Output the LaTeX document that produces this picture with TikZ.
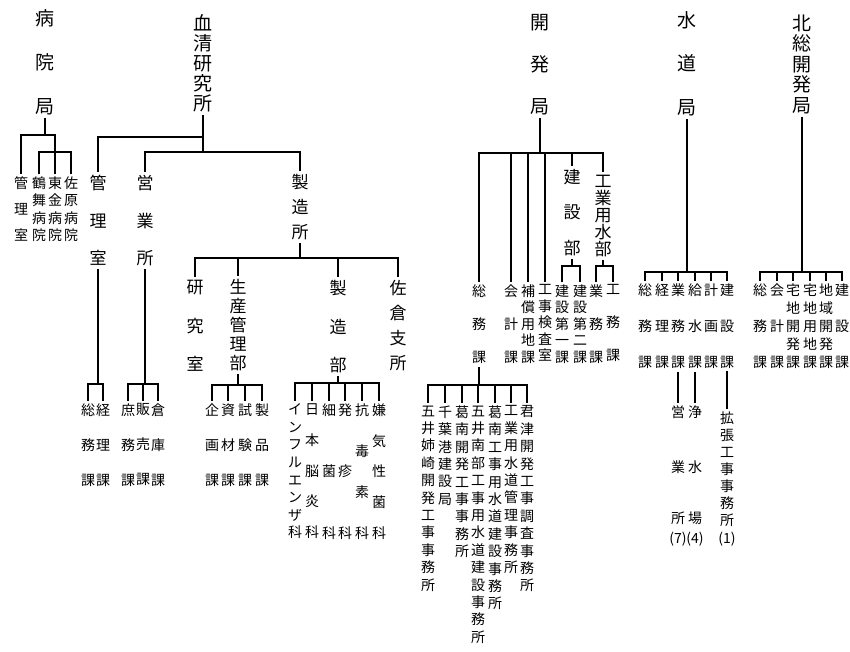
\documentclass[tikz,border=0pt]{standalone}
\usepackage{fontspec}
\newfontfamily\jp{Noto Sans CJK JP}
\usetikzlibrary{positioning}

\begin{document}
\begin{tikzpicture}[x=1pt, y=-1pt,
    vt/.style 2 args={align=center, anchor=north, inner sep=0pt, outer sep=3pt, font=\jp\fontsize{#1}{#2}\selectfont},
    ln/.style={line width=2.3pt},
  ]
  \useasboundingbox (0,0) rectangle (850,651);

  % top offices
  \node[vt={19}{44}] (byoin) at (45,6.5) {病\\院\\局};
  \node[vt={19}{20}] (kessei) at (203,11.5) {血\\清\\研\\究\\所};
  \node[vt={19}{42}] (kaihatsu) at (540,11.5) {開\\発\\局};
  \node[vt={19}{43.5}] (suido) at (687,8.5) {水\\道\\局};
  \node[vt={19}{20.5}] (hokuso) at (802,11.5) {北\\総\\開\\発\\局};

  % 病院局
  \node[vt={14}{26}] (b-kanri) at (21,173.7) {管\\理\\室};
  \node[vt={14}{17.3}] (tsurumai) at (39,173.7) {鶴\\舞\\病\\院};
  \node[vt={14}{17.3}] (togane) at (55,173.7) {東\\金\\病\\院};
  \node[vt={14}{17.3}] (sawara) at (71,173.7) {佐\\原\\病\\院};

  % 血清研究所
  \node[vt={17}{37.5}] (k-kanri) at (98,172.3) {管\\理\\室};
  \node[vt={17}{37.5}] (k-eigyo) at (145,172.3) {営\\業\\所};
  \node[vt={17}{25}] (k-seizo) at (300,171.3) {製\\造\\所};
  \node[vt={14}{35}] (k-somu) at (88,400.7) {総\\務\\課};
  \node[vt={14}{35}] (k-keiri) at (103,400.7) {経\\理\\課};
  \node[vt={14}{35}] (shomu) at (128,400.7) {庶\\務\\課};
  \node[vt={14}{35}] (hanbai) at (143,400.7) {販\\売\\課};
  \node[vt={14}{35}] (soko) at (158,400.7) {倉\\庫\\課};

  % 製造所
  \node[vt={17}{38.5}] (kenkyu) at (195,277.3) {研\\究\\室};
  \node[vt={17}{19}] (seisan) at (238,276.3) {生\\産\\管\\理\\部};
  \node[vt={17}{38.5}] (seizobu) at (338,277.3) {製\\造\\部};
  \node[vt={17}{25}] (sakura) at (398,277.3) {佐\\倉\\支\\所};
  \node[vt={14}{35}] (kikaku) at (212,400.7) {企\\画\\課};
  \node[vt={14}{35}] (shizai) at (228,400.7) {資\\材\\課};
  \node[vt={14}{35}] (shiken) at (245,400.7) {試\\験\\課};
  \node[vt={14}{35}] (seihin) at (262,400.7) {製\\品\\課};
  \node[vt={14}{17.6}] (influ) at (295,400.7) {イ\\ン\\フ\\ル\\エ\\ン\\ザ\\科};
  \node[vt={14}{30.75}] (nichino) at (312,400.7) {日\\本\\脳\\炎\\科};
  \node[vt={14}{61.5}] (saikin) at (329,400.7) {細\\菌\\科};
  \node[vt={14}{61.5}] (hosshin) at (345,400.7) {発\\疹\\科};
  \node[vt={14}{41}] (kodoku) at (362,400.7) {抗\\毒\\素\\科};
  \node[vt={14}{30.75}] (kenki) at (379,400.7) {嫌\\気\\性\\菌\\科};

  % 開発局
  \node[vt={14}{33}] (k-somuka) at (479,281.7) {総\\務\\課};
  \node[vt={14}{33}] (kaikei) at (511,281.7) {会\\計\\課};
  \node[vt={14}{16.5}] (hosho) at (528,281.7) {補\\償\\用\\地\\課};
  \node[vt={14}{16.5}] (kensa) at (545,281.7) {工\\事\\検\\査\\室};
  \node[vt={17}{35.5}] (kensetsubu) at (572,166.3) {建\\設\\部};
  \node[vt={17}{17}] (kogyo) at (603,172.3) {工\\業\\用\\水\\部};
  \node[vt={14}{16.5}] (dai1) at (562,281.7) {建\\設\\第\\一\\課};
  \node[vt={14}{16.5}] (dai2) at (580,281.7) {建\\設\\第\\二\\課};
  \node[vt={14}{33}] (kg-gyomu) at (596,281.7) {業\\務\\課};
  \node[vt={14}{33}] (kg-komu) at (613,281.7) {工\\務\\課};
  \node[vt={14}{17.4}] (goi-anesaki) at (428,402.7) {五\\井\\姉\\崎\\開\\発\\工\\事\\事\\務\\所};
  \node[vt={14}{17.4}] (chiba) at (445,402.7) {千\\葉\\港\\建\\設\\局};
  \node[vt={14}{17.4}] (katsunan-kaihatsu) at (462,402.7) {葛\\南\\開\\発\\工\\事\\事\\務\\所};
  \node[vt={14}{17.4}] (goi-nanbu) at (478,402.7) {五\\井\\南\\部\\工\\事\\用\\水\\道\\建\\設\\事\\務\\所};
  \node[vt={14}{17.4}] (katsunan-koji) at (495,402.7) {葛\\南\\工\\事\\用\\水\\道\\建\\設\\事\\務\\所};
  \node[vt={14}{17.4}] (kogyo-kanri) at (511,402.7) {工\\業\\用\\水\\道\\管\\理\\事\\務\\所};
  \node[vt={14}{17.4}] (kimitsu) at (527,402.7) {君\\津\\開\\発\\工\\事\\調\\査\\事\\務\\所};

  % 水道局
  \node[vt={14}{36}] (s-somu) at (645,280.7) {総\\務\\課};
  \node[vt={14}{36}] (s-keiri) at (662,280.7) {経\\理\\課};
  \node[vt={14}{36}] (s-gyomu) at (678,280.7) {業\\務\\課};
  \node[vt={14}{36}] (kyusui) at (695,280.7) {給\\水\\課};
  \node[vt={14}{36}] (keikaku) at (711,280.7) {計\\画\\課};
  \node[vt={14}{36}] (s-kensetsu) at (727,280.7) {建\\設\\課};
  \node[vt={14}{18}] (s-eigyosho) at (678,402.7) {営\\[37pt]業\\[33pt]所\\[2pt](7)};
  \node[vt={14}{18}] (josui) at (695,402.7) {浄\\[37pt]水\\[33pt]場\\[2pt](4)};
  \node[vt={14}{17}] (kakucho) at (727,408.7) {拡\\張\\工\\事\\事\\務\\所\\[1pt](1)};

  % 北総開発局
  \node[vt={14}{36}] (h-somu) at (760,280.7) {総\\務\\課};
  \node[vt={14}{36}] (h-kaikei) at (777,280.7) {会\\計\\課};
  \node[vt={14}{18}] (takuchi-kaihatsu) at (793,280.7) {宅\\地\\開\\発\\課};
  \node[vt={14}{18}] (takuchi-yochi) at (810,280.7) {宅\\地\\用\\地\\課};
  \node[vt={14}{18}] (chiiki) at (826,280.7) {地\\域\\開\\発\\課};
  \node[vt={14}{36}] (h-kensetsu) at (842,280.7) {建\\設\\課};

  % connectors
  \coordinate (byoin-j) at (45,135);
  \coordinate (byoin-j2) at (55,152);
  \draw[ln] (byoin.south) -- (byoin-j);
  \draw[ln] (byoin-j) -| (b-kanri.north);
  \draw[ln] (byoin-j) -| (byoin-j2);
  \foreach \n in {tsurumai,togane,sawara} \draw[ln] (byoin-j2) -| (\n.north);

  \coordinate (kessei-j) at (203,137);
  \coordinate (kessei-j2) at (203,152);
  \draw[ln] (kessei.south) -- (kessei-j2);
  \draw[ln] (kessei-j) -| (k-kanri.north);
  \foreach \n in {k-eigyo,k-seizo} \draw[ln] (kessei-j2) -| (\n.north);

  \coordinate (kk-j) at (98,384);
  \draw[ln] (k-kanri.south) -- (kk-j);
  \foreach \n in {k-somu,k-keiri} \draw[ln] (kk-j) -| (\n.north);
  \coordinate (ke-j) at (145,384);
  \draw[ln] (k-eigyo.south) -- (ke-j);
  \foreach \n in {shomu,hanbai,soko} \draw[ln] (ke-j) -| (\n.north);

  \coordinate (ks-j) at (300,258);
  \draw[ln] (k-seizo.south) -- (ks-j);
  \foreach \n in {kenkyu,seisan,seizobu,sakura} \draw[ln] (ks-j) -| (\n.north);
  \coordinate (sk-j) at (238,385);
  \draw[ln] (seisan.south) -- (sk-j);
  \foreach \n in {kikaku,shizai,shiken,seihin} \draw[ln] (sk-j) -| (\n.north);
  \coordinate (sb-j) at (338,383);
  \draw[ln] (seizobu.south) -- (sb-j);
  \foreach \n in {influ,nichino,saikin,hosshin,kodoku,kenki} \draw[ln] (sb-j) -| (\n.north);

  \coordinate (kh-j) at (540,153);
  \draw[ln] (kaihatsu.south) -- (kh-j);
  \foreach \n in {k-somuka,kaikei,hosho,kensa,kensetsubu,kogyo} \draw[ln] (kh-j) -| (\n.north);
  \coordinate (kb-j) at (572,266);
  \draw[ln] (kensetsubu.south) -- (kb-j);
  \foreach \n in {dai1,dai2} \draw[ln] (kb-j) -| (\n.north);
  \coordinate (kg-j) at (603,266);
  \draw[ln] (kogyo.south) -- (kg-j);
  \foreach \n in {kg-gyomu,kg-komu} \draw[ln] (kg-j) -| (\n.north);
  \coordinate (km-j) at (479,385);
  \draw[ln] (k-somuka.south) -- (km-j);
  \foreach \n in {goi-anesaki,chiba,katsunan-kaihatsu,goi-nanbu,katsunan-koji,kogyo-kanri,kimitsu}
    \draw[ln] (km-j) -| (\n.north);

  \coordinate (sd-j) at (687,272);
  \draw[ln] (suido.south) -- (sd-j);
  \foreach \n in {s-somu,s-keiri,s-gyomu,kyusui,keikaku,s-kensetsu} \draw[ln] (sd-j) -| (\n.north);
  \draw[ln] (s-gyomu.south) -- (s-eigyosho.north);
  \draw[ln] (kyusui.south) -- (josui.north);
  \draw[ln] (s-kensetsu.south) -- (kakucho.north);

  \coordinate (hk-j) at (802,272);
  \draw[ln] (hokuso.south) -- (hk-j);
  \foreach \n in {h-somu,h-kaikei,takuchi-kaihatsu,takuchi-yochi,chiiki,h-kensetsu} \draw[ln] (hk-j) -| (\n.north);
\end{tikzpicture}
\end{document}
